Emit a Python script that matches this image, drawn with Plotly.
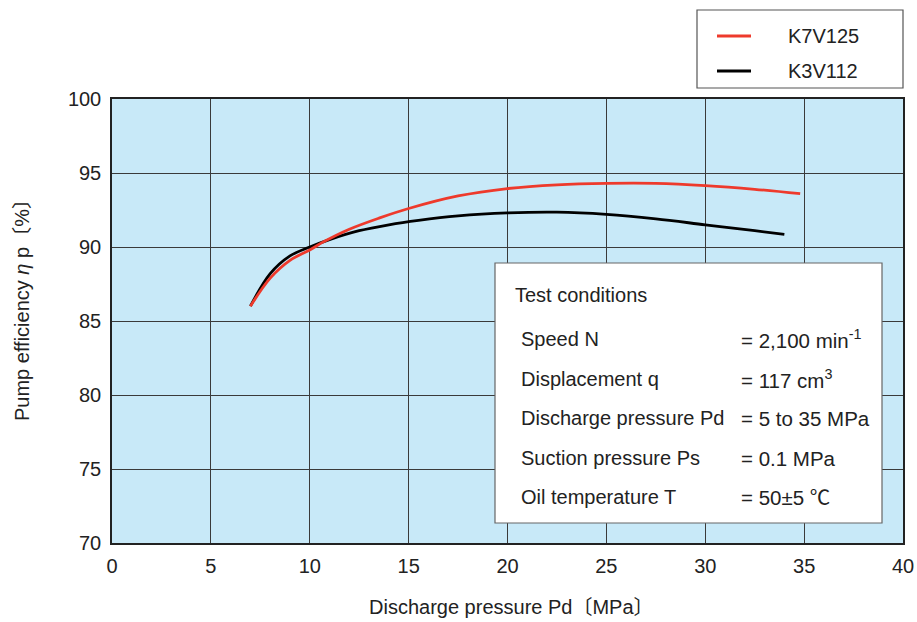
import plotly.graph_objects as go

# Data
pressure_k7 = [7, 8, 9, 10, 10.7, 12, 13.5, 15, 17.5, 20, 22.5, 25, 27.5, 30, 32.5, 34.8]
eff_k7 = [86.0, 87.9, 89.1, 89.8, 90.35, 91.2, 91.95, 92.6, 93.45, 93.95, 94.2, 94.3, 94.3, 94.15, 93.9, 93.6]

pressure_k3 = [7, 8, 9, 10, 11, 12.5, 14, 15.5, 17.5, 20, 22.5, 25, 27.5, 30, 32.5, 34]
eff_k3 = [86.0, 88.2, 89.4, 90.0, 90.5, 91.1, 91.5, 91.8, 92.1, 92.3, 92.35, 92.2, 91.9, 91.5, 91.1, 90.85]

series_names = ["K7V125", "K3V112"]
series_colors = ["#ee3a2c", "#000000"]

x_ticks = [0, 5, 10, 15, 20, 25, 30, 35, 40]
y_ticks = [70, 75, 80, 85, 90, 95, 100]

cond_labels = ["Speed N", "Displacement q", "Discharge pressure Pd", "Suction pressure Ps", "Oil temperature T"]
cond_values = ["= 2,100 min<sup>-1</sup>", "= 117 cm<sup>3</sup>", "= 5 to 35 MPa", "= 0.1 MPa", "= 50±5 ℃"]

FONT = "Liberation Sans, Arial, Noto Sans CJK JP, sans-serif"
TXT = "#222222"
FS = 20

fig = go.Figure()
for xs, ys, nm, col in [(pressure_k3, eff_k3, series_names[1], series_colors[1]),
                        (pressure_k7, eff_k7, series_names[0], series_colors[0])]:
    fig.add_trace(go.Scatter(x=xs, y=ys, name=nm, mode="lines",
                             line=dict(color=col, width=2.8, shape="spline", smoothing=1.0),
                             showlegend=False))

W, H = 917, 622
L, R, T, B = 112, 14, 99, 79
pw, ph = W - L - R, H - T - B

def px(xp):
    return (xp - L) / pw

def py(yp):
    return 1 - (yp - T) / ph

shapes = []
annotations = []

# Legend box (manual)
shapes.append(dict(type="rect", xref="paper", yref="paper", x0=px(697), x1=px(903), y0=py(88), y1=py(10),
                   fillcolor="white", line=dict(color="#555555", width=1.2), layer="above"))
for i, (nm, col) in enumerate(zip(series_names, series_colors)):
    yy = 36 + i * 35
    shapes.append(dict(type="line", xref="paper", yref="paper", x0=px(717), x1=px(751), y0=py(yy), y1=py(yy),
                       line=dict(color=col, width=2.8), layer="above"))
    annotations.append(dict(xref="paper", yref="paper", x=px(786), y=py(yy), text=nm, showarrow=False,
                            xanchor="left", yanchor="middle", font=dict(size=FS, color=TXT, family=FONT)))

# Test conditions box
shapes.append(dict(type="rect", xref="paper", yref="paper", x0=px(495), x1=px(882), y0=py(523), y1=py(263),
                   fillcolor="white", line=dict(color="#666666", width=1.2), layer="above"))
annotations.append(dict(xref="paper", yref="paper", x=px(513), y=py(295), text="Test conditions", showarrow=False,
                        xanchor="left", yanchor="middle", font=dict(size=FS, color=TXT, family=FONT)))
row_y = [339, 379, 418, 458, 497]
for lab, val, yy in zip(cond_labels, cond_values, row_y):
    annotations.append(dict(xref="paper", yref="paper", x=px(519), y=py(yy), text=lab, showarrow=False,
                            xanchor="left", yanchor="middle", font=dict(size=FS, color=TXT, family=FONT)))
    annotations.append(dict(xref="paper", yref="paper", x=px(739), y=py(yy), text=val, showarrow=False,
                            xanchor="left", yanchor="middle", font=dict(size=20.5, color=TXT, family=FONT)))

# Axis titles
annotations.append(dict(xref="paper", yref="paper", x=px(512), y=py(607), text="Discharge pressure Pd〔MPa〕",
                        showarrow=False, xanchor="center", yanchor="middle",
                        font=dict(size=FS, color=TXT, family=FONT)))
annotations.append(dict(xref="paper", yref="paper", x=px(22), y=py(305), text="Pump efficiency <i>η</i> p〔%〕",
                        showarrow=False, xanchor="center", yanchor="middle", textangle=-90,
                        font=dict(size=FS, color=TXT, family=FONT)))

fig.update_layout(
    width=W, height=H,
    margin=dict(l=L, r=R, t=T, b=B, autoexpand=False),
    paper_bgcolor="white",
    plot_bgcolor="#c8e9f8",
    shapes=shapes,
    annotations=annotations,
    font=dict(family=FONT, color=TXT, size=FS),
)
fig.update_xaxes(range=[0, 40], tickvals=x_ticks, showgrid=True, gridcolor="#3a3a3a", gridwidth=1,
                 showline=True, linecolor="#222222", linewidth=1.5, mirror=True, zeroline=False,
                 automargin=False,
                 ticks="", ticklabelstandoff=4, tickfont=dict(size=FS, color=TXT, family=FONT))
fig.update_yaxes(range=[70, 100], tickvals=y_ticks, showgrid=True, gridcolor="#3a3a3a", gridwidth=1,
                 showline=True, linecolor="#222222", linewidth=1.5, mirror=True, zeroline=False,
                 automargin=False,
                 ticks="", ticklabelstandoff=5, tickfont=dict(size=FS, color=TXT, family=FONT))

fig.write_html("out.html", config={"displayModeBar": False},
               post_script="document.body.style.margin='0';")
